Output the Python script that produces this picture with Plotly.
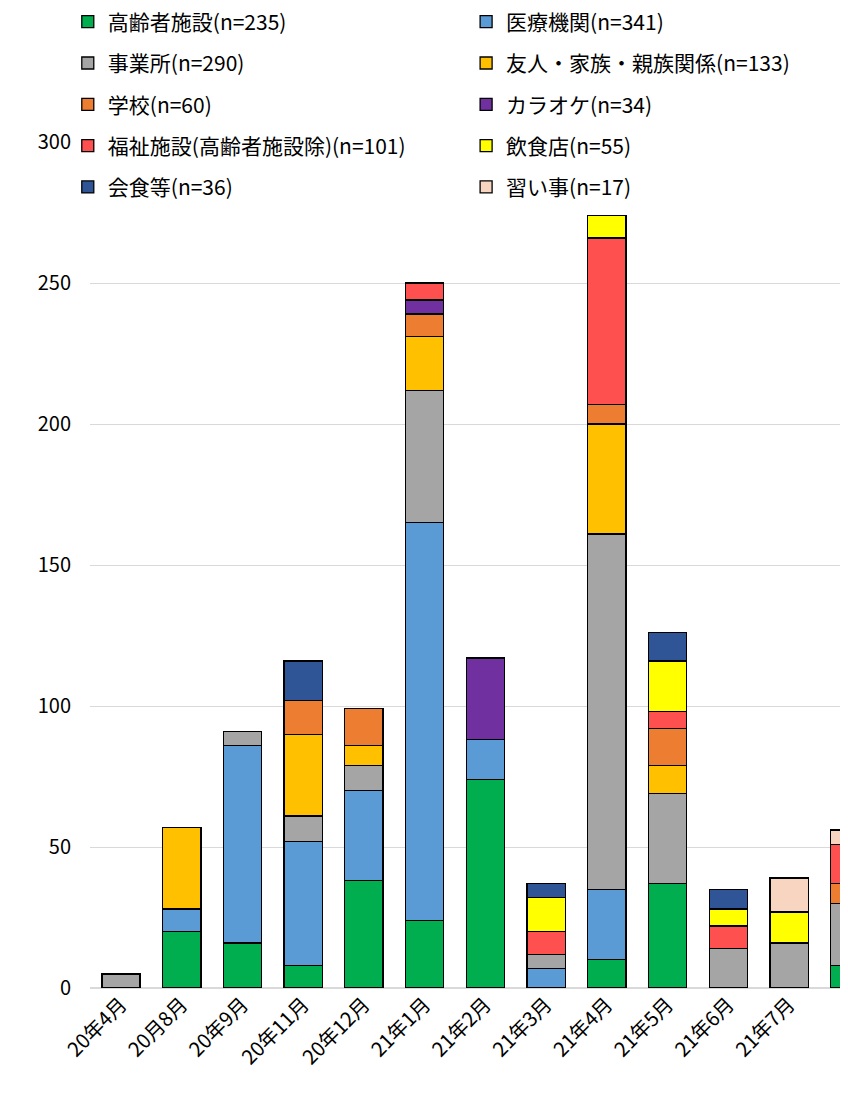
import plotly.graph_objects as go

months = ["20年4月","20月8月","20年9月","20年11月","20年12月","21年1月","21年2月","21年3月","21年4月","21年5月","21年6月","21年7月","21年8月"]
names = ["高齢者施設(n=235)","医療機関(n=341)","事業所(n=290)","友人・家族・親族関係(n=133)","学校(n=60)","カラオケ(n=34)","福祉施設(高齢者施設除)(n=101)","飲食店(n=55)","会食等(n=36)","習い事(n=17)"]
colors = ["#00AD4F","#5B9BD5","#A5A5A5","#FFC000","#ED7D31","#7030A0","#FF5050","#FFFF00","#2F5597","#F8D5C0"]
elderly  = [0,20,16,8,38,24,74,0,10,37,0,0,8]
medical  = [0,8,70,44,32,141,14,7,25,0,0,0,0]
office   = [5,0,5,9,9,47,0,5,126,32,14,16,22]
friends  = [0,29,0,29,7,19,0,0,39,10,0,0,0]
school   = [0,0,0,12,13,8,0,0,7,13,0,0,7]
karaoke  = [0,0,0,0,0,5,29,0,0,0,0,0,0]
welfare  = [0,0,0,0,0,6,0,8,59,6,8,0,14]
food     = [0,0,0,0,0,0,0,12,8,18,6,11,0]
dining   = [0,0,0,14,0,0,0,5,0,10,7,0,0]
lessons  = [0,0,0,0,0,0,0,0,0,0,0,12,5]
series = [elderly,medical,office,friends,school,karaoke,welfare,food,dining,lessons]

fig = go.Figure()
for i,(n,c,v) in enumerate(zip(names,colors,series)):
    fig.add_bar(x=list(range(len(months))), y=[val if val else None for val in v], name=n,
                legend="legend" if i % 2 == 0 else "legend2", legendgroup=n,
                marker=dict(color=c, line=dict(color="black", width=1.3)), width=0.63)
leg = dict(orientation="v", yanchor="top", y=1.166, xanchor="left", font=dict(size=21),
           bgcolor="rgba(255,255,255,0)", traceorder="grouped", tracegroupgap=11, itemwidth=30)
fig.update_layout(
    barmode="stack", width=848, height=1096, plot_bgcolor="white", paper_bgcolor="white",
    font=dict(family="Noto Sans CJK JP", size=20, color="black"),
    margin=dict(l=82, r=0, t=134, b=116, autoexpand=False),
    legend=dict(leg, x=-0.029),
    legend2=dict(leg, x=0.491),
)
fig.update_xaxes(range=[-0.51, 12.1], tickmode="array", tickvals=list(range(len(months))), ticktext=months,
                 tickangle=-45, showline=False, ticks="")
fig.update_yaxes(range=[0, 300], dtick=50, gridcolor="#D9D9D9", zeroline=True, zerolinecolor="#D9D9D9",
                 ticklabelstandoff=18)
fig.write_html("out.html")
